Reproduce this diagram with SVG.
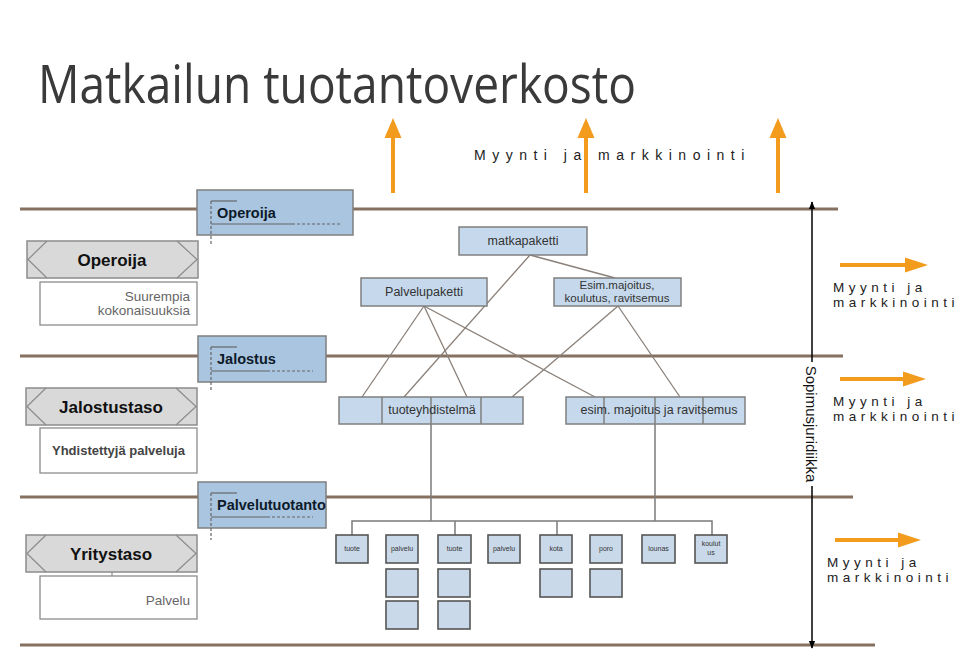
<svg xmlns="http://www.w3.org/2000/svg" width="960" height="655" viewBox="0 0 960 655">
<defs>
<style>
.lvl{stroke:#86705f;stroke-width:3;fill:none}
.gray{fill:#d9d9d9;stroke:#8c8c8c;stroke-width:1.5}
.chev{stroke:#8c8c8c;stroke-width:1.2;fill:none}
.wbox{fill:#fff;stroke:#8c8c8c;stroke-width:1.3}
.blue{fill:#a9c5e0;stroke:#7f7f7f;stroke-width:1.5}
.node{fill:#c6d9ec;stroke:#7f7f7f;stroke-width:1.5}
.sm{fill:#c9d9ea;stroke:#555;stroke-width:1.6}
.conn{stroke:#8a8079;stroke-width:1.3;fill:none}
.bus{stroke:#7a7a7a;stroke-width:1.5;fill:none}
.dash{stroke:#666;stroke-width:1.2;stroke-dasharray:3,2;fill:none}
.sol{stroke:#666;stroke-width:1.2;fill:none}
.orange{stroke:#f29b1d;stroke-width:4;fill:none}
.oh{fill:#f29b1d}
text{font-family:"Liberation Sans",Arial,sans-serif}
.hb{font-size:17px;font-weight:bold;fill:#111;text-anchor:middle}
.bl{font-size:14.5px;font-weight:bold;fill:#0d1a2a}
.sub{font-size:13.5px;fill:#666;text-anchor:end}
.nt{font-size:12.5px;fill:#333;text-anchor:middle}
.nt2{font-size:11.5px;fill:#333;text-anchor:middle}
.st{font-size:7px;fill:#333;text-anchor:middle}
.mk{font-size:13.5px;fill:#222;letter-spacing:4.5px}
.mkt{font-size:14px;fill:#222;letter-spacing:6.5px}
</style>
<marker id="ah" viewBox="0 0 10 10" refX="9" refY="5" markerWidth="8" markerHeight="8" orient="auto-start-reverse" markerUnits="userSpaceOnUse">
<path d="M0,1 L10,5 L0,9 z" fill="#000"/>
</marker>
</defs>
<rect width="960" height="655" fill="#fff"/>
<text x="38" y="103" font-size="53" fill="#3a3a3a" textLength="598" lengthAdjust="spacingAndGlyphs" style="font-family:'Open Sans','Noto Sans',sans-serif">Matkailun tuotantoverkosto</text>

<g id="levels">
<line class="lvl" x1="20" y1="209" x2="838" y2="209"/>
<line class="lvl" x1="20" y1="356" x2="843" y2="356"/>
<line class="lvl" x1="20" y1="497" x2="853" y2="497"/>
<line class="lvl" x1="20" y1="645" x2="875" y2="645"/>
</g>

<g id="sales-up">
<line class="orange" x1="393" y1="193" x2="393" y2="135"/>
<path class="oh" d="M384.5,138 L393,118 L401.5,138 z"/>
<line class="orange" x1="586" y1="193" x2="586" y2="135"/>
<path class="oh" d="M577.5,138 L586,118 L594.5,138 z"/>
<line class="orange" x1="778" y1="193" x2="778" y2="135"/>
<path class="oh" d="M769.5,138 L778,118 L786.5,138 z"/>
<text class="mkt" x="474" y="160">Myynti ja markkinointi</text>
</g>

<g id="sales-right">
<line class="orange" x1="840" y1="265" x2="908" y2="265"/>
<path class="oh" d="M905,257.5 L928,265 L905,272.5 z"/>
<text class="mk" x="833" y="292">Myynti ja</text>
<text class="mk" x="833" y="307">markkinointi</text>
<line class="orange" x1="840" y1="379" x2="906" y2="379"/>
<path class="oh" d="M903,371.5 L926,379 L903,386.5 z"/>
<text class="mk" x="833" y="406">Myynti ja</text>
<text class="mk" x="833" y="421">markkinointi</text>
<line class="orange" x1="835" y1="540" x2="901" y2="540"/>
<path class="oh" d="M898,532.5 L921,540 L898,547.5 z"/>
<text class="mk" x="827" y="567">Myynti ja</text>
<text class="mk" x="827" y="582">markkinointi</text>
</g>

<g id="sopimus">
<line x1="812" y1="202" x2="812" y2="648" stroke="#000" stroke-width="1.5" marker-start="url(#ah)" marker-end="url(#ah)"/>
<rect x="802" y="362" width="16" height="124" fill="#fff"/>
<text transform="translate(806,424) rotate(90)" font-size="15" fill="#111" text-anchor="middle">Sopimusjuridiikka</text>
</g>

<g id="operoija-left">
<rect class="gray" x="27" y="241" width="171" height="37"/>
<path class="chev" d="M47,241 L28,259.5 L47,278 M177,241 L197,259.5 L177,278"/>
<text class="hb" x="112" y="266">Operoija</text>
<rect class="wbox" x="40" y="282" width="157" height="43"/>
<text class="sub" x="190" y="301">Suurempia</text>
<text class="sub" x="190" y="315">kokonaisuuksia</text>
</g>

<g id="jalostustaso-left">
<rect class="gray" x="26" y="388" width="171" height="37"/>
<path class="chev" d="M46,388 L27,406.5 L46,425 M176,388 L196,406.5 L176,425"/>
<text class="hb" x="111" y="413">Jalostustaso</text>
<rect class="wbox" x="40" y="428" width="157" height="45"/>
<text x="52" y="455" font-size="13" font-weight="bold" fill="#444">Yhdistettyjä palveluja</text>
</g>

<g id="yritystaso-left">
<rect class="gray" x="26" y="535" width="171" height="37"/>
<path class="chev" d="M46,535 L27,553.5 L46,572 M176,535 L196,553.5 L176,572"/>
<text class="hb" x="111" y="560">Yritystaso</text>
<line x1="112" y1="572" x2="112" y2="576" stroke="#8c8c8c" stroke-width="1.2"/>
<rect class="wbox" x="40" y="576" width="157" height="43"/>
<text class="sub" x="190" y="605">Palvelu</text>
</g>

<g id="operoija-tag">
<rect class="blue" x="197" y="190" width="156" height="45"/>
<line class="sol" x1="211" y1="201" x2="237" y2="201"/>
<line class="dash" x1="211" y1="201" x2="211" y2="245"/>
<line class="sol" x1="211" y1="224" x2="292" y2="224"/>
<line class="dash" x1="292" y1="224" x2="340" y2="224"/>
<text class="bl" x="217" y="218">Operoija</text>
</g>

<g id="jalostus-tag">
<rect class="blue" x="198" y="336" width="128" height="46"/>
<line class="sol" x1="211" y1="347" x2="237" y2="347"/>
<line class="dash" x1="211" y1="347" x2="211" y2="392"/>
<line class="sol" x1="211" y1="371" x2="267" y2="371"/>
<line class="dash" x1="267" y1="371" x2="313" y2="371"/>
<text class="bl" x="217" y="364">Jalostus</text>
</g>

<g id="palvelutuotanto-tag">
<rect class="blue" x="198" y="482" width="128" height="46"/>
<line class="sol" x1="211" y1="493" x2="237" y2="493"/>
<line class="dash" x1="211" y1="493" x2="211" y2="540"/>
<line class="sol" x1="211" y1="517" x2="267" y2="517"/>
<line class="dash" x1="267" y1="517" x2="313" y2="517"/>
<text class="bl" x="217" y="510">Palvelutuotanto</text>
</g>

<g id="connectors">
<line class="conn" x1="530" y1="255" x2="404" y2="397"/>
<line class="conn" x1="530" y1="255" x2="615" y2="278"/>
<line class="conn" x1="424" y1="306" x2="362" y2="397"/>
<line class="conn" x1="424" y1="306" x2="467" y2="397"/>
<line class="conn" x1="424" y1="306" x2="595" y2="397"/>
<line class="conn" x1="618" y1="306" x2="512" y2="397"/>
<line class="conn" x1="618" y1="306" x2="680" y2="397"/>
<line class="bus" x1="431" y1="424" x2="431" y2="521"/>
<line class="bus" x1="655" y1="424" x2="655" y2="521"/>
<polyline class="bus" points="352,535 352,521 712,521 712,535"/>
<line class="bus" x1="455" y1="521" x2="455" y2="535"/>
<line class="bus" x1="557" y1="521" x2="557" y2="535"/>
</g>

<g id="matkapaketti">
<rect class="node" x="459" y="227" width="128" height="28"/>
<text class="nt" x="523" y="245">matkapaketti</text>
</g>
<g id="palvelupaketti">
<rect class="node" x="361" y="278" width="126" height="28"/>
<text class="nt" x="424" y="296">Palvelupaketti</text>
</g>
<g id="esim-majoitus">
<rect class="node" x="554" y="278" width="127" height="28"/>
<text class="nt2" x="617" y="289">Esim.majoitus,</text>
<text class="nt2" x="617" y="302">koulutus, ravitsemus</text>
</g>

<g id="tuoteyhdistelma">
<rect class="node" x="339" y="397" width="184" height="27"/>
<line class="node" x1="382" y1="397" x2="382" y2="424"/>
<line class="node" x1="431" y1="397" x2="431" y2="424"/>
<line class="node" x1="481" y1="397" x2="481" y2="424"/>
<text class="nt" x="432" y="414">tuoteyhdistelmä</text>
</g>
<g id="esim-majoitus-ravitsemus">
<rect class="node" x="566" y="397" width="179" height="27"/>
<line class="node" x1="604" y1="397" x2="604" y2="424"/>
<line class="node" x1="655" y1="397" x2="655" y2="424"/>
<line class="node" x1="703" y1="397" x2="703" y2="424"/>
<text class="nt" x="659" y="414">esim. majoitus ja ravitsemus</text>
</g>

<g id="s-tuote1"><rect class="sm" x="336" y="535" width="32" height="28"/><text class="st" x="352" y="551">tuote</text></g>
<g id="s-palvelu1"><rect class="sm" x="386" y="535" width="32" height="28"/><text class="st" x="402" y="551">palvelu</text>
<rect class="sm" x="386" y="569" width="32" height="28"/><rect class="sm" x="386" y="601" width="32" height="28"/></g>
<g id="s-tuote2"><rect class="sm" x="438" y="535" width="33" height="28"/><text class="st" x="454.5" y="551">tuote</text>
<rect class="sm" x="438" y="569" width="32" height="28"/><rect class="sm" x="438" y="601" width="32" height="28"/></g>
<g id="s-palvelu2"><rect class="sm" x="488" y="535" width="32" height="28"/><text class="st" x="504" y="551">palvelu</text></g>
<g id="s-kota"><rect class="sm" x="540" y="535" width="32" height="28"/><text class="st" x="556" y="551">kota</text>
<rect class="sm" x="540" y="569" width="32" height="28"/></g>
<g id="s-poro"><rect class="sm" x="590" y="535" width="32" height="28"/><text class="st" x="606" y="551">poro</text>
<rect class="sm" x="590" y="569" width="32" height="28"/></g>
<g id="s-lounas"><rect class="sm" x="642" y="535" width="33" height="28"/><text class="st" x="658.5" y="551">lounas</text></g>
<g id="s-koulutus"><rect class="sm" x="695" y="535" width="32" height="28"/><text class="st" x="711" y="546">koulut</text><text class="st" x="711" y="555">us</text></g>
</svg>
